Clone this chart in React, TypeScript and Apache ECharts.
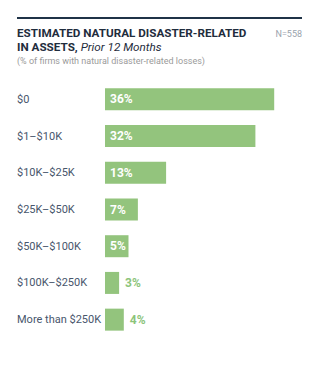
import React, { useEffect, useRef } from "react";
import * as echarts from "echarts";

const categories = ["$0", "$1–$10K", "$10K–$25K", "$25K–$50K", "$50K–$100K", "$100K–$250K", "More than $250K"];
const values = [36, 32, 13, 7, 5, 3, 4];
const insideThreshold = 5;

const BAR = "#93c47d";
const LABEL_GREEN = "#8cc47a";
const TEXT = "#48566c";

export default function App() {
  const ref = useRef<HTMLDivElement>(null);
  useEffect(() => {
    document.body.style.margin = "0";
    const chart = echarts.init(ref.current!, null, { renderer: "svg" });
    const font = "Roboto, 'Noto Sans', sans-serif";
    chart.setOption({
      animation: false,
      backgroundColor: "#ffffff",
      textStyle: { fontFamily: font },
      grid: { left: 105, right: 31, top: 81, bottom: 30, containLabel: false },
      xAxis: {
        type: "value",
        min: 0,
        max: 40,
        show: false,
      },
      yAxis: {
        type: "category",
        data: categories,
        inverse: true,
        axisLine: { show: false },
        axisTick: { show: false },
        splitLine: { show: false },
        axisLabel: {
          align: "left",
          margin: 88,
          color: TEXT,
          fontSize: 11,
          fontFamily: font,
        },
      },
      series: [
        {
          type: "bar",
          barWidth: 22,
          data: values.map((v) => ({
            value: v,
            label:
              v >= insideThreshold
                ? { position: "insideLeft", offset: [0, 0], color: "#ffffff", fontWeight: "bold" }
                : { position: "right", distance: 6, color: LABEL_GREEN, fontWeight: "bold" },
          })),
          itemStyle: { color: BAR },
          label: {
            show: true,
            formatter: "{c}%",
            fontSize: 12,
            fontFamily: font,
          },
        },
      ],
      graphic: [
        {
          type: "line",
          shape: { x1: 17, y1: 18, x2: 302, y2: 18 },
          style: { stroke: "#1f3347", lineWidth: 2 },
        },
        {
          type: "text",
          left: 17,
          top: 27,
          style: {
            text: "{b|ESTIMATED NATURAL DISASTER-RELATED}\n{b|IN ASSETS, }{i|Prior 12 Months}",
            rich: {
              b: { fontSize: 11.7, fontWeight: "bold", fill: "#1f2d3d", fontFamily: font, lineHeight: 14 },
              i: { fontSize: 11.7, fontStyle: "italic", fill: "#1f2d3d", fontFamily: font, lineHeight: 14 },
            },
          },
        },
        {
          type: "text",
          left: 17,
          top: 56,
          style: {
            text: "(% of firms with natural disaster-related losses)",
            fontSize: 9,
            fill: "#9a9a9a",
            fontFamily: font,
          },
        },
        {
          type: "text",
          right: 22,
          top: 29,
          style: {
            text: "N=558",
            fontSize: 9,
            fill: "#9aa3ad",
            fontFamily: font,
          },
        },
      ],
    });
    return () => chart.dispose();
  }, []);
  return <div ref={ref} style={{ width: 324, height: 368 }} />;
}
